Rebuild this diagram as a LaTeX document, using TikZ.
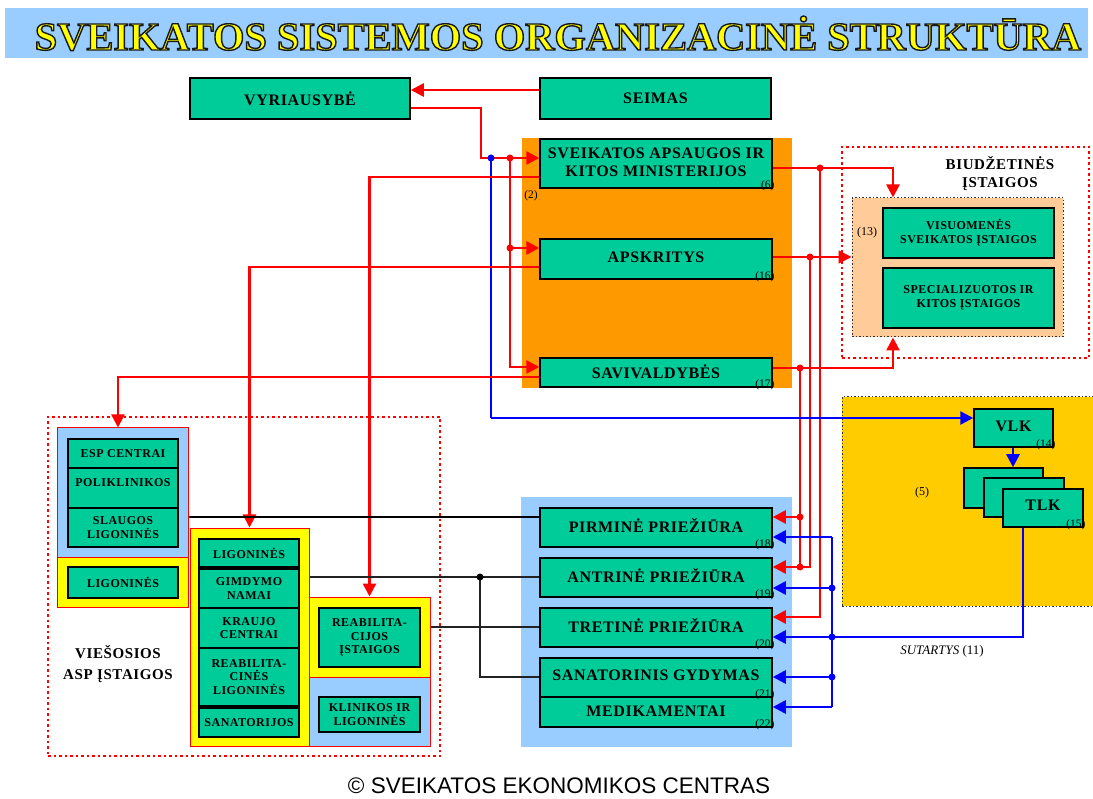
\documentclass[tikz,border=0pt]{standalone}
\usepackage{fontspec}
\usepackage{graphicx}
\setmainfont{Liberation Serif}
\newfontfamily\bxf[LetterSpace=4]{Liberation Serif}
\newfontfamily\sansf{Liberation Sans}
\usetikzlibrary{arrows.meta}
\definecolor{grn}{HTML}{00CC99}
\definecolor{org}{HTML}{FF9900}
\definecolor{lblue}{HTML}{99CCFF}
\definecolor{peach}{HTML}{FFCC99}
\definecolor{gold}{HTML}{FFCC00}
\definecolor{ylw}{HTML}{FFFF00}
\definecolor{rd}{HTML}{FF0000}
\definecolor{bl}{HTML}{0000FF}
\definecolor{blk}{HTML}{222222}
\newcommand\RB[7]{\node[#1, minimum width={(#5-#3)*1pt}, minimum height={(#6-#4)*1pt}] (#2) at ({(#3+#5)/2},{(#4+#6)/2}) {#7};}
\newcommand\ttltext{\bfseries SVEIKATOS SISTEMOS ORGANIZACINĖ STRUKTŪRA}
\begin{document}
\begin{tikzpicture}[x=1pt,y=-1pt,
  gbox/.style={draw=black, line width=1.5pt, fill=grn, inner sep=0pt, align=center, font=\bxf\bfseries\fontsize{16}{18}\selectfont},
  sbox/.style={gbox, font=\bxf\bfseries\fontsize{12}{13.5}\selectfont},
  bg/.style={inner sep=0pt, draw=none},
  rbord/.style={inner sep=0pt, draw=rd, line width=1pt},
  kdot/.style={inner sep=0pt, draw=black!80, line width=1pt, dash pattern=on 1.5pt off 2pt},
  rdot/.style={inner sep=0pt, draw=rd, line width=2.5pt, dash pattern=on 2.5pt off 3pt},
  num/.style={inner sep=0pt, font=\fontsize{11.5}{11.5}\selectfont, anchor=south east},
  txt/.style={inner sep=0pt, align=center, font=\bxf\bfseries\fontsize{12}{14}\selectfont},
  rthick/.style={draw=rd, line width=2.6pt},
  rthin/.style={draw=rd, line width=1.4pt},
  bthin/.style={draw=bl, line width=1.4pt},
  bthick/.style={draw=bl, line width=2.6pt},
  kthick/.style={draw=black, line width=2.6pt},
  kthin/.style={draw=blk, line width=1.4pt},
  tip/.style={-{Triangle[length=13pt,width=13pt]}},
  dot/.style={circle, inner sep=0pt, minimum size=7pt}
]
\useasboundingbox (0,0) rectangle (1093,799);
\fill[white] (0,0) rectangle (1093,799);
% title
\RB{bg, fill=lblue}{titlebar}{5}{8}{1088}{58}{}
\node[anchor=base, inner sep=0pt] (title) at (558,50) {\resizebox{1046pt}{34pt}{\color{ylw}\special{pdf:code 2 Tr 0.35 w 0.1 0.1 0.1 RG}\ttltext\special{pdf:code 0 Tr}}};

% backgrounds
\RB{bg, fill=org}{orange}{522}{138}{792}{388}{}
\RB{rdot}{budout}{842}{147}{1089}{358}{}
\RB{kdot, fill=peach}{peach}{852}{198}{1063}{337}{}
\RB{kdot, fill=gold}{goldbg}{842}{397}{1096}{606}{}
\RB{bg, fill=lblue}{midbg}{521}{497}{792}{747}{}
\RB{rdot}{pubout}{48}{417}{440}{756}{}
\RB{rbord, fill=lblue}{espB}{57}{428}{188}{557}{}
\RB{rbord, fill=ylw}{ligY1}{57}{557}{188}{607}{}
\RB{rbord, fill=ylw}{ligY}{190}{528}{309}{746}{}
\RB{rbord, fill=ylw}{reabY}{309}{597}{430}{677}{}
\RB{rbord, fill=lblue}{klB}{309}{677}{430}{746}{}

% top boxes
\RB{gbox}{vyr}{190}{78}{410}{119}{VYRIAUSYBĖ}
\RB{gbox}{seimas}{540}{78}{771}{119}{SEIMAS}
\RB{gbox}{min}{540}{139}{772}{188}{\raisebox{2pt}{\begin{tabular}{@{}c@{}}SVEIKATOS APSAUGOS IR\\KITOS MINISTERIJOS\end{tabular}}}
\RB{gbox}{apsk}{540}{239}{772}{279}{\raisebox{4pt}{APSKRITYS}}
\RB{gbox}{sav}{540}{358}{772}{387}{\raisebox{2pt}{SAVIVALDYBĖS}}

% connectors top
\draw[rthick,tip] (seimas.west |- 0,90) -- (vyr.east |- 0,90);
\draw[rthin] (vyr.east |- 0,108) -- (481,108) -- (481,158) -- (510,158);
\draw[rthick,tip] (510,158) -- (min.west |- 0,158);
\draw[rthick,tip] (510,158) |- (sav.west |- 0,367);
\draw[rthick,tip] (510,248) -- (apsk.west |- 0,248);
\draw[bthin] (491,158) -- (491,418);
% left red
\draw[rthick,tip] (min.west |- 0,177) -| (reabY.north);
\draw[rthick,tip] (apsk.west |- 0,267) -| (ligY.north);
\draw[rthick,tip] (sav.west |- 0,377) -| (espB.north -| 118,0);
% right red
\draw[rthin] (min.east |- 0,168) -- (893,168);
\draw[rthick,tip] (893,167) -- (peach.north -| 893,0);
\draw[rthin,tip] (apsk.east |- 0,257) -- (peach.west |- 0,257);
\draw[rthick] (sav.east |- 0,368) -- (893,368);
\draw[rthick,tip] (893,369) -- (peach.south -| 893,0);

% budget boxes
\RB{gbox, font=\bxf\bfseries\fontsize{12}{14}\selectfont}{vis}{883}{208}{1054}{258}{VISUOMENĖS\\SVEIKATOS ĮSTAIGOS}
\RB{gbox, font=\bxf\bfseries\fontsize{12}{14}\selectfont}{spec}{883}{268}{1054}{328}{\raisebox{6pt}{\begin{tabular}{@{}c@{}}SPECIALIZUOTOS IR\\KITOS ĮSTAIGOS\end{tabular}}}
\node[txt, font=\bxf\bfseries\fontsize{15}{18}\selectfont] (budT) at (1000,174) {BIUDŽETINĖS\\ĮSTAIGOS};
\node[inner sep=0pt, font=\fontsize{12}{12}\selectfont] (n13) at (867,233) {(13)};

% middle boxes
\RB{gbox}{pirm}{540}{508}{772}{547}{\raisebox{4pt}{PIRMINĖ PRIEŽIŪRA}}
\RB{gbox}{antr}{540}{558}{772}{597}{\raisebox{4pt}{ANTRINĖ PRIEŽIŪRA}}
\RB{gbox}{tret}{540}{608}{772}{647}{\raisebox{4pt}{TRETINĖ PRIEŽIŪRA}}
\RB{gbox}{san}{540}{658}{772}{697}{\raisebox{4pt}{SANATORINIS GYDYMAS}}
\RB{gbox}{med}{540}{697}{772}{727}{\raisebox{2pt}{MEDIKAMENTAI}}

% red verticals to care levels
\draw[rthick,tip] (820,168) |- (tret.east |- 0,617);
\draw[rthick,tip] (810,257) |- (antr.east |- 0,567);
\draw[rthick] (800,368) -- (800,567);
\draw[rthick,tip] (800,517) -- (pirm.east |- 0,517);

% gold area
\RB{gbox}{vlk}{974}{409}{1053}{447}{\raisebox{4pt}{VLK}}
\RB{gbox}{tlkA}{964}{468}{1043}{508}{}
\RB{gbox}{tlkB}{984}{478}{1064}{517}{}
\RB{gbox}{tlkC}{1003}{489}{1083}{527}{\raisebox{5pt}{TLK}}
\node[inner sep=0pt, font=\fontsize{12}{12}\selectfont] (n5) at (922,493) {(5)};
\draw[bthick,tip] (491,418) -- (vlk.west |- 0,418);
\draw[bthick,tip] (vlk.south -| 1013,0) -- (tlkA.north -| 1013,0);

% blue right
\draw[bthick] (832,537) -- (832,707);
\draw[bthick,tip] (832,537) -- (pirm.east |- 0,537);
\draw[bthick,tip] (832,588) -- (antr.east |- 0,588);
\draw[bthick,tip] (832,637) -- (tret.east |- 0,637);
\draw[bthick,tip] (832,677) -- (san.east |- 0,677);
\draw[bthick,tip] (832,707) -- (med.east |- 0,707);
\draw[bthin] (tlkC.south -| 1023,0) |- (832,637);
\node[inner sep=0pt, font=\fontsize{13}{13}\selectfont] (sut) at (942,651) {\textit{SUTARTYS} (11)};

% left boxes
\RB{sbox}{esp1}{68}{439}{178}{468}{ESP CENTRAI}
\RB{sbox}{esp2}{68}{468}{178}{508}{\raisebox{10pt}{POLIKLINIKOS}}
\RB{sbox}{esp3}{68}{508}{178}{547}{SLAUGOS\\LIGONINĖS}
\RB{sbox}{lig0}{68}{567}{178}{598}{LIGONINĖS}
\RB{sbox}{l1}{199}{539}{299}{567}{LIGONINĖS}
\RB{sbox}{l2}{199}{569}{299}{608}{GIMDYMO\\NAMAI}
\RB{sbox}{l3}{199}{608}{299}{648}{KRAUJO\\CENTRAI}
\RB{sbox}{l4}{199}{648}{299}{706}{REABILITA-\\CINĖS\\LIGONINĖS}
\RB{sbox}{l5}{199}{708}{299}{737}{SANATORIJOS}
\RB{sbox}{r1}{319}{608}{420}{667}{REABILITA-\\CIJOS\\ĮSTAIGOS}
\RB{sbox}{k1}{319}{697}{420}{732}{KLINIKOS IR\\LIGONINĖS}
\node[txt, font=\bxf\bfseries\fontsize{15}{21}\selectfont] (pubT) at (118,664) {VIEŠOSIOS\\ASP ĮSTAIGOS};

% black connectors
\draw[kthick] (espB.east |- 0,517) -- (pirm.west |- 0,517);
\draw[kthin] (ligY.east |- 0,577) -- (antr.west |- 0,577);
\draw[kthin] (480,577) |- (san.west |- 0,677);
\draw[kthin] (reabY.east |- 0,627) -- (tret.west |- 0,627);

% dots
\node[dot, fill=bl] (dB1) at (491,158) {};
\node[dot, fill=rd] (dR1) at (510,158) {};
\node[dot, fill=rd] (dR2) at (510,248) {};
\node[dot, fill=rd] (dR3) at (820,168) {};
\node[dot, fill=rd] (dR4) at (810,257) {};
\node[dot, fill=rd] (dR5) at (800,368) {};
\node[dot, fill=rd] (dR6) at (800,517) {};
\node[dot, fill=rd] (dR7) at (800,567) {};
\node[dot, fill=bl] (dB2) at (832,588) {};
\node[dot, fill=bl] (dB3) at (832,637) {};
\node[dot, fill=bl] (dB4) at (832,677) {};
\node[dot, fill=black] (dK1) at (480,577) {};

% numbers
\node[num] (n6) at ([xshift=2pt,yshift=-2pt]min.south east) {(6)};
\node[num] (n16) at ([xshift=2pt,yshift=-2pt]apsk.south east) {(16)};
\node[num] (n17) at ([xshift=2pt,yshift=-2pt]sav.south east) {(17)};
\node[num] (n18) at ([xshift=2pt,yshift=-2pt]pirm.south east) {(18)};
\node[num] (n19) at ([xshift=2pt,yshift=-2pt]antr.south east) {(19)};
\node[num] (n20) at ([xshift=2pt,yshift=-2pt]tret.south east) {(20)};
\node[num] (n21) at ([xshift=2pt,yshift=-2pt]san.south east) {(21)};
\node[num] (n22) at ([xshift=2pt,yshift=-2pt]med.south east) {(22)};
\node[num] (n14) at ([xshift=2pt,yshift=-2pt]vlk.south east) {(14)};
\node[num] (n15) at ([xshift=2pt,yshift=-2pt]tlkC.south east) {(15)};
\node[inner sep=0pt, font=\fontsize{11.5}{11.5}\selectfont] (n2) at (531,196) {(2)};

% footer
\node[anchor=base, inner sep=0pt, font=\sansf\fontsize{22.5}{22.5}\selectfont] (foot) at (559,793) {© SVEIKATOS EKONOMIKOS CENTRAS};
\end{tikzpicture}
\end{document}
